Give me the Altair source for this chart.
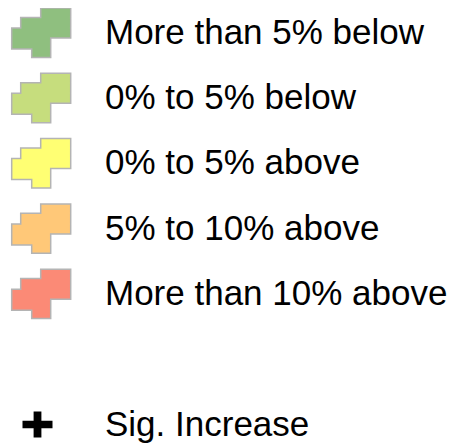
import altair as alt
import pandas as pd

categories = [
    "More than 5% below",
    "0% to 5% below",
    "0% to 5% above",
    "5% to 10% above",
    "More than 10% above",
]
colors = ["#8fbf7f", "#c6dd7d", "#ffff73", "#ffc878", "#fb8a76"]
sig_labels = ["Sig. Increase"]
row_order = categories + [" "] + sig_labels

shape_path = ("M -0.017 -0.837 L 1 -0.837 L 1 0.18 L 0.322 0.18 L 0.322 0.837 "
              "L -0.322 0.837 L -0.322 0.553 L -1 0.553 L -1 -0.16 L -0.695 -0.16 "
              "L -0.695 -0.519 L -0.017 -0.519 Z")
cross_path = ("M -0.26 -0.87 L 0.26 -0.87 L 0.26 -0.25 L 1 -0.25 L 1 0.25 L 0.26 0.25 "
              "L 0.26 0.87 L -0.26 0.87 L -0.26 0.25 L -1 0.25 L -1 -0.25 L -0.26 -0.25 Z")

cat_df = pd.DataFrame({"label": categories})
sig_df = pd.DataFrame({"label": sig_labels})
all_df = pd.DataFrame({"label": categories + sig_labels})

yenc = alt.Y("label:N", scale=alt.Scale(type="point", domain=row_order, range=[24.7, 416.5], padding=0), axis=None)

shapes = alt.Chart(cat_df).mark_point(
    shape=shape_path, filled=True, size=3481, stroke="#b4b4b4", strokeWidth=1.5, opacity=1
).encode(
    x=alt.value(33.2),
    y=yenc,
    fill=alt.Fill("label:N", scale=alt.Scale(domain=categories, range=colors), legend=None),
)

cross = alt.Chart(sig_df).mark_point(
    shape=cross_path, filled=True, size=900, fill="black", opacity=1, strokeWidth=0
).encode(x=alt.value(29.5), y=yenc)

texts = alt.Chart(all_df).mark_text(
    align="left", baseline="middle", fontSize=35, font="Liberation Sans", color="black"
).encode(x=alt.value(97), y=yenc, text="label:N")

chart = alt.layer(shapes, cross, texts).properties(
    width=441, height=437, autosize=alt.AutoSizeParams(type="none"), padding=0
).configure_view(stroke=None)

chart.save("out.html", embed_options={"renderer": "svg", "actions": False})
